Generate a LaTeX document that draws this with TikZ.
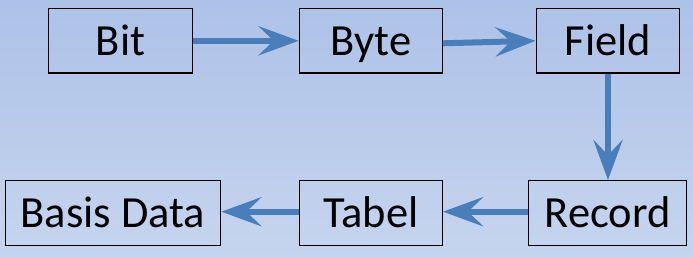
\documentclass[tikz,border=0pt]{standalone}
\usepackage{fontspec}
\setmainfont{Carlito}
\usetikzlibrary{arrows.meta}
\definecolor{bgtop}{RGB}{173,194,232}
\definecolor{bgbot}{RGB}{198,212,238}
\definecolor{flow}{RGB}{74,126,187}
\begin{document}
\begin{tikzpicture}[x=1pt,y=-1pt,
  unit/.style={draw=black, line width=1.3pt, rectangle, inner sep=0pt,
    minimum height=64.6pt, text height=28.6pt, text depth=0pt,
    font=\fontsize{44.5}{50}\selectfont},
  link/.style={draw=flow, line width=6pt,
    -{Stealth[length=40pt, width=29pt, inset=15pt]}}]
  % background with a soft vertical gradient
  \shade[top color=bgtop, bottom color=bgbot] (0,0) rectangle (693,257);
  \useasboundingbox (0,0) rectangle (693,257);
  % upper row
  \node[unit, minimum width=144pt] (bit)   at (120.5,40.8) {Bit};
  \node[unit, minimum width=143pt] (byte)  at (370.8,40.8) {Byte};
  \node[unit, minimum width=143.4pt] (field) at (608,40.8) {Field};
  % lower row
  \node[unit, minimum width=215.4pt] (basis) at (113,213) {Basis Data};
  \node[unit, minimum width=143pt] (tabel) at (370.8,213) {Tabel};
  \node[unit, minimum width=158pt] (record) at (607.7,213) {Record};
  % connectors
  \draw[link] (bit.east) -- (byte.west);
  \draw[link] ([yshift=-2.5pt]byte.east) -- (field.west);
  \draw[link] (field.south) -- (field.south |- record.north);
  \draw[link] ([yshift=1.3pt]record.west) -- ([yshift=1.3pt]tabel.east);
  \draw[link] ([yshift=1.3pt]tabel.west) -- ([yshift=1.3pt]basis.east);
\end{tikzpicture}
\end{document}
